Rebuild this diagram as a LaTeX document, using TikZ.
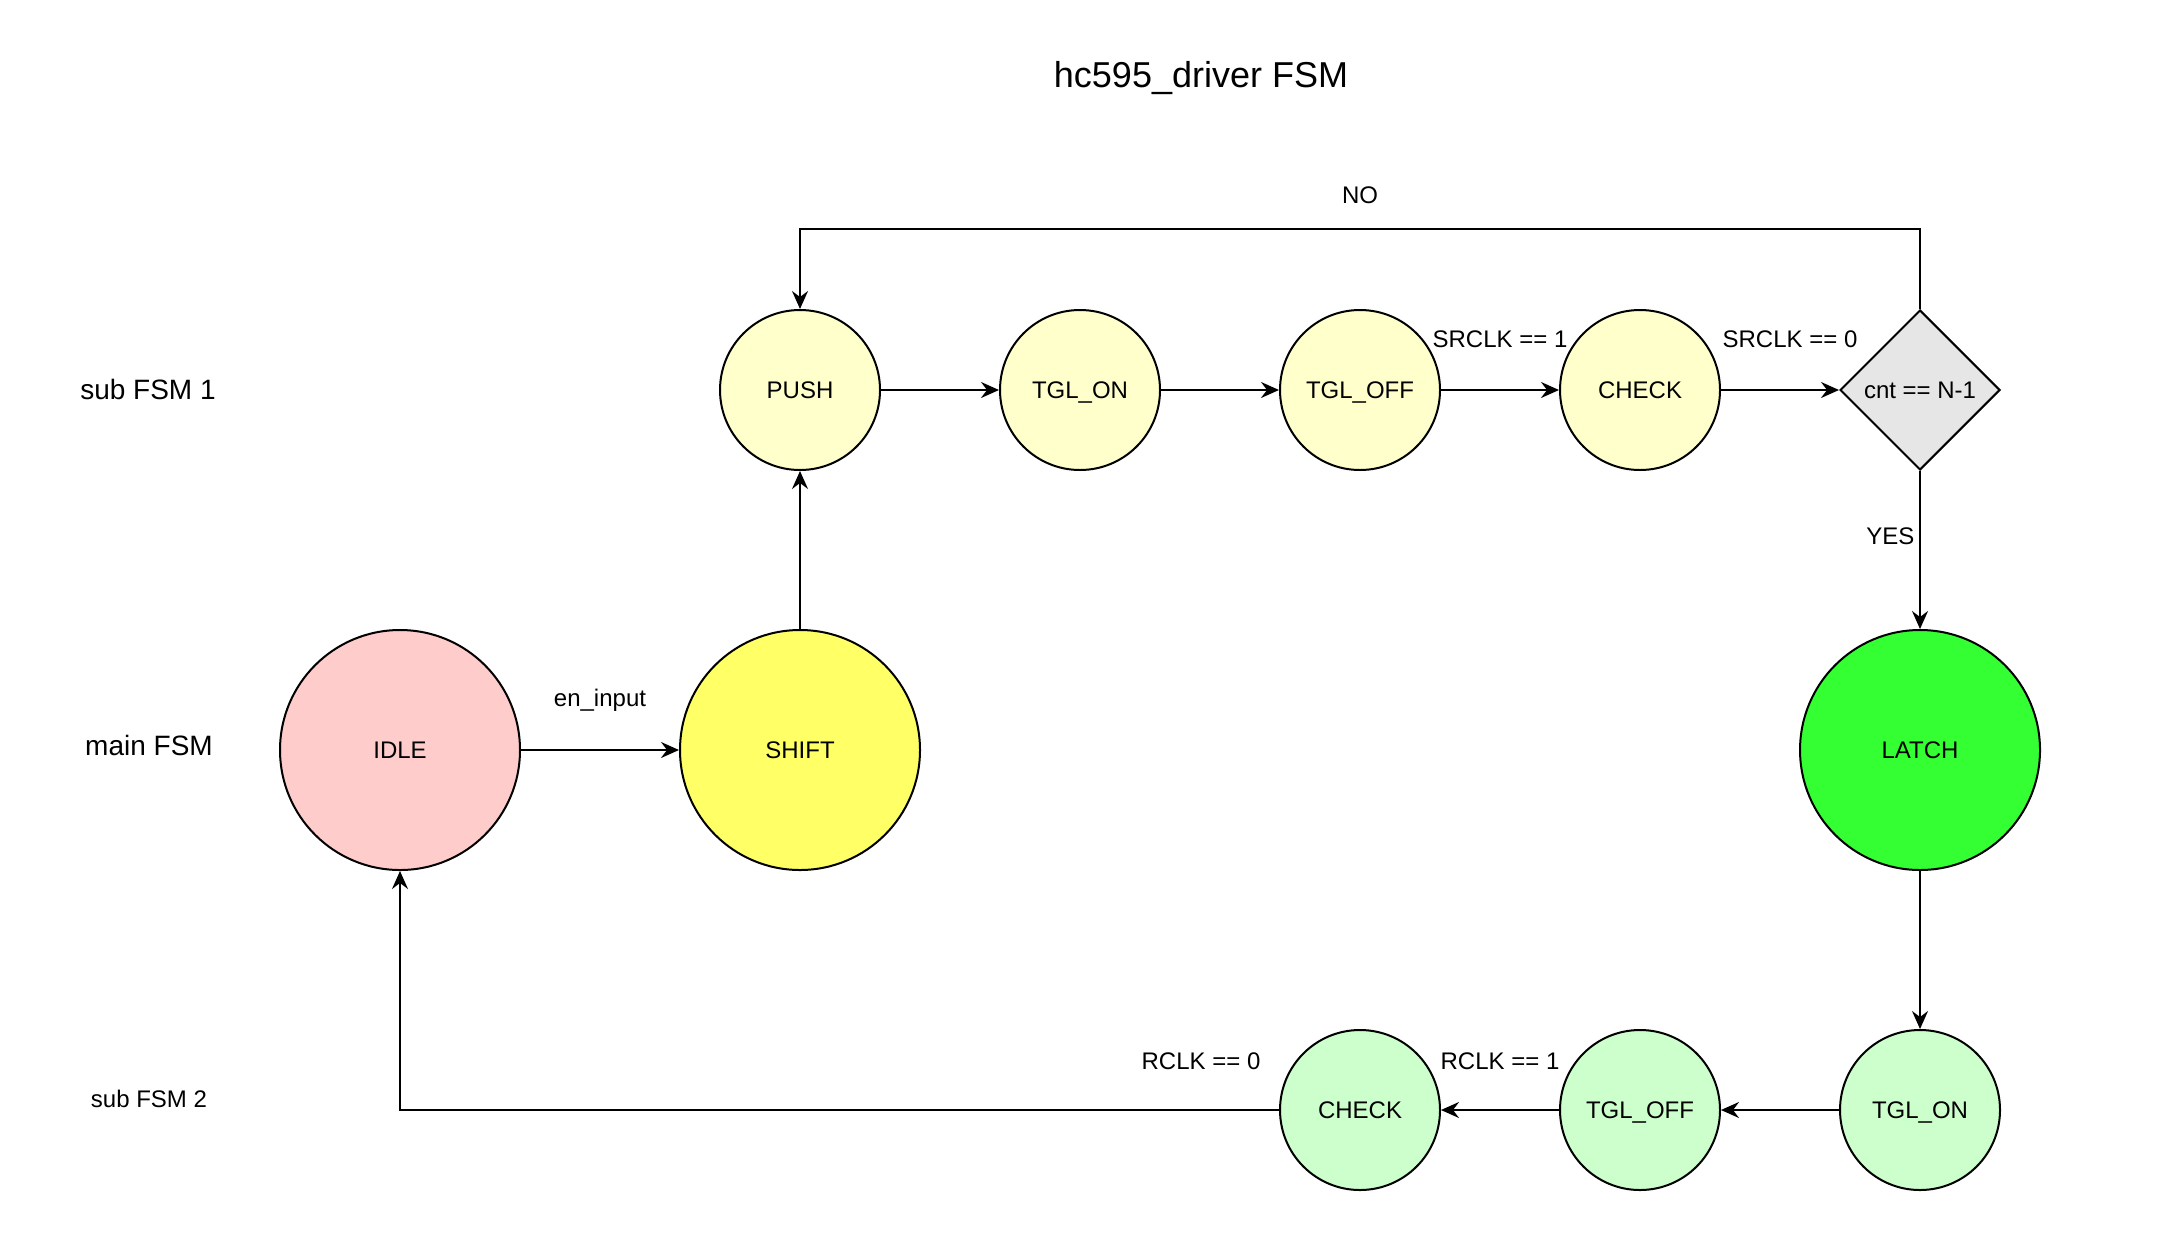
\documentclass[tikz,border=0pt]{standalone}
\usepackage{fontspec}
\setmainfont{Liberation Sans}
\usetikzlibrary{arrows.meta,shapes.geometric}

\definecolor{idlefill}{HTML}{FFCCCC}
\definecolor{shiftfill}{HTML}{FFFF66}
\definecolor{latchfill}{HTML}{33FF33}
\definecolor{subonefill}{HTML}{FFFFCC}
\definecolor{subtwofill}{HTML}{CCFFCC}
\definecolor{decidefill}{HTML}{E6E6E6}

\begin{document}
\begin{tikzpicture}[x=0.5pt,y=-0.5pt,
    smallstate/.style={circle,draw,line width=1pt,minimum size=80pt,inner sep=0pt,text depth=0pt,font=\fontsize{12}{14}\selectfont},
    bigstate/.style={smallstate,minimum size=120pt},
    decide/.style={diamond,draw,line width=1pt,minimum width=80pt,minimum height=80pt,inner sep=0pt,fill=decidefill,font=\fontsize{12}{14}\selectfont},
    link/.style={line width=1pt,-{Stealth[length=9pt,width=8pt,inset=3pt]}},
    lbl/.style={font=\fontsize{12}{14}\selectfont,anchor=base}]
                \useasboundingbox (0,0) rectangle (2182,1248);

                % title and row names
                \node[font=\fontsize{18}{22}\selectfont,anchor=base] (title) at (1201,87) {hc595\_driver FSM};
                \node[font=\fontsize{14}{17}\selectfont,anchor=base] (rowone) at (148,399) {sub FSM 1};
                \node[font=\fontsize{14}{17}\selectfont,anchor=base] (rowmain) at (149,755) {main FSM};
                \node[lbl] (rowtwo) at (149,1107) {sub FSM 2};

                % main FSM
                \node[bigstate,fill=idlefill] (idle) at (400,750) {IDLE};
                \node[bigstate,fill=shiftfill] (shift) at (800,750) {SHIFT};
                \node[bigstate,fill=latchfill] (latch) at (1920,750) {LATCH};

                % sub FSM 1
                \node[smallstate,fill=subonefill] (push) at (800,390) {PUSH};
                \node[smallstate,fill=subonefill] (ton1) at (1080,390) {TGL\_ON};
                \node[smallstate,fill=subonefill] (toff1) at (1360,390) {TGL\_OFF};
                \node[smallstate,fill=subonefill] (chk1) at (1640,390) {CHECK};
                \node[decide] (cnt) at (1920,390) {cnt == N-1};

                % sub FSM 2
                \node[smallstate,fill=subtwofill] (ton2) at (1920,1110) {TGL\_ON};
                \node[smallstate,fill=subtwofill] (toff2) at (1640,1110) {TGL\_OFF};
                \node[smallstate,fill=subtwofill] (chk2) at (1360,1110) {CHECK};

                % transitions
                \draw[link] (idle) -- node[lbl,midway,yshift=22pt] {en\_input} (shift);
                \draw[link] (shift) -- (push);
                \draw[link] (push) -- (ton1);
                \draw[link] (ton1) -- (toff1);
                \draw[link] (toff1) -- node[lbl,midway,yshift=21.5pt] {SRCLK == 1} (chk1);
                \draw[link] (chk1) -- node[lbl,midway,xshift=5pt,yshift=21.5pt] {SRCLK == 0} (cnt);
                \draw[link] (cnt.north) -- ++(0,-80) -| node[lbl,pos=0.25,yshift=13pt] {NO} (push.north);
                \draw[link] (cnt) -- node[lbl,midway,anchor=base east,xshift=1pt,yshift=3pt] {YES} (latch);
                \draw[link] (latch) -- (ton2);
                \draw[link] (ton2) -- (toff2);
                \draw[link] (toff2) -- node[lbl,midway,yshift=20.5pt] {RCLK == 1} (chk2);
                \draw[link] (chk2.west) -| (idle.south);
                \node[lbl] (rclkzero) at (1201,1069) {RCLK == 0};
            \end{tikzpicture}
\end{document}
